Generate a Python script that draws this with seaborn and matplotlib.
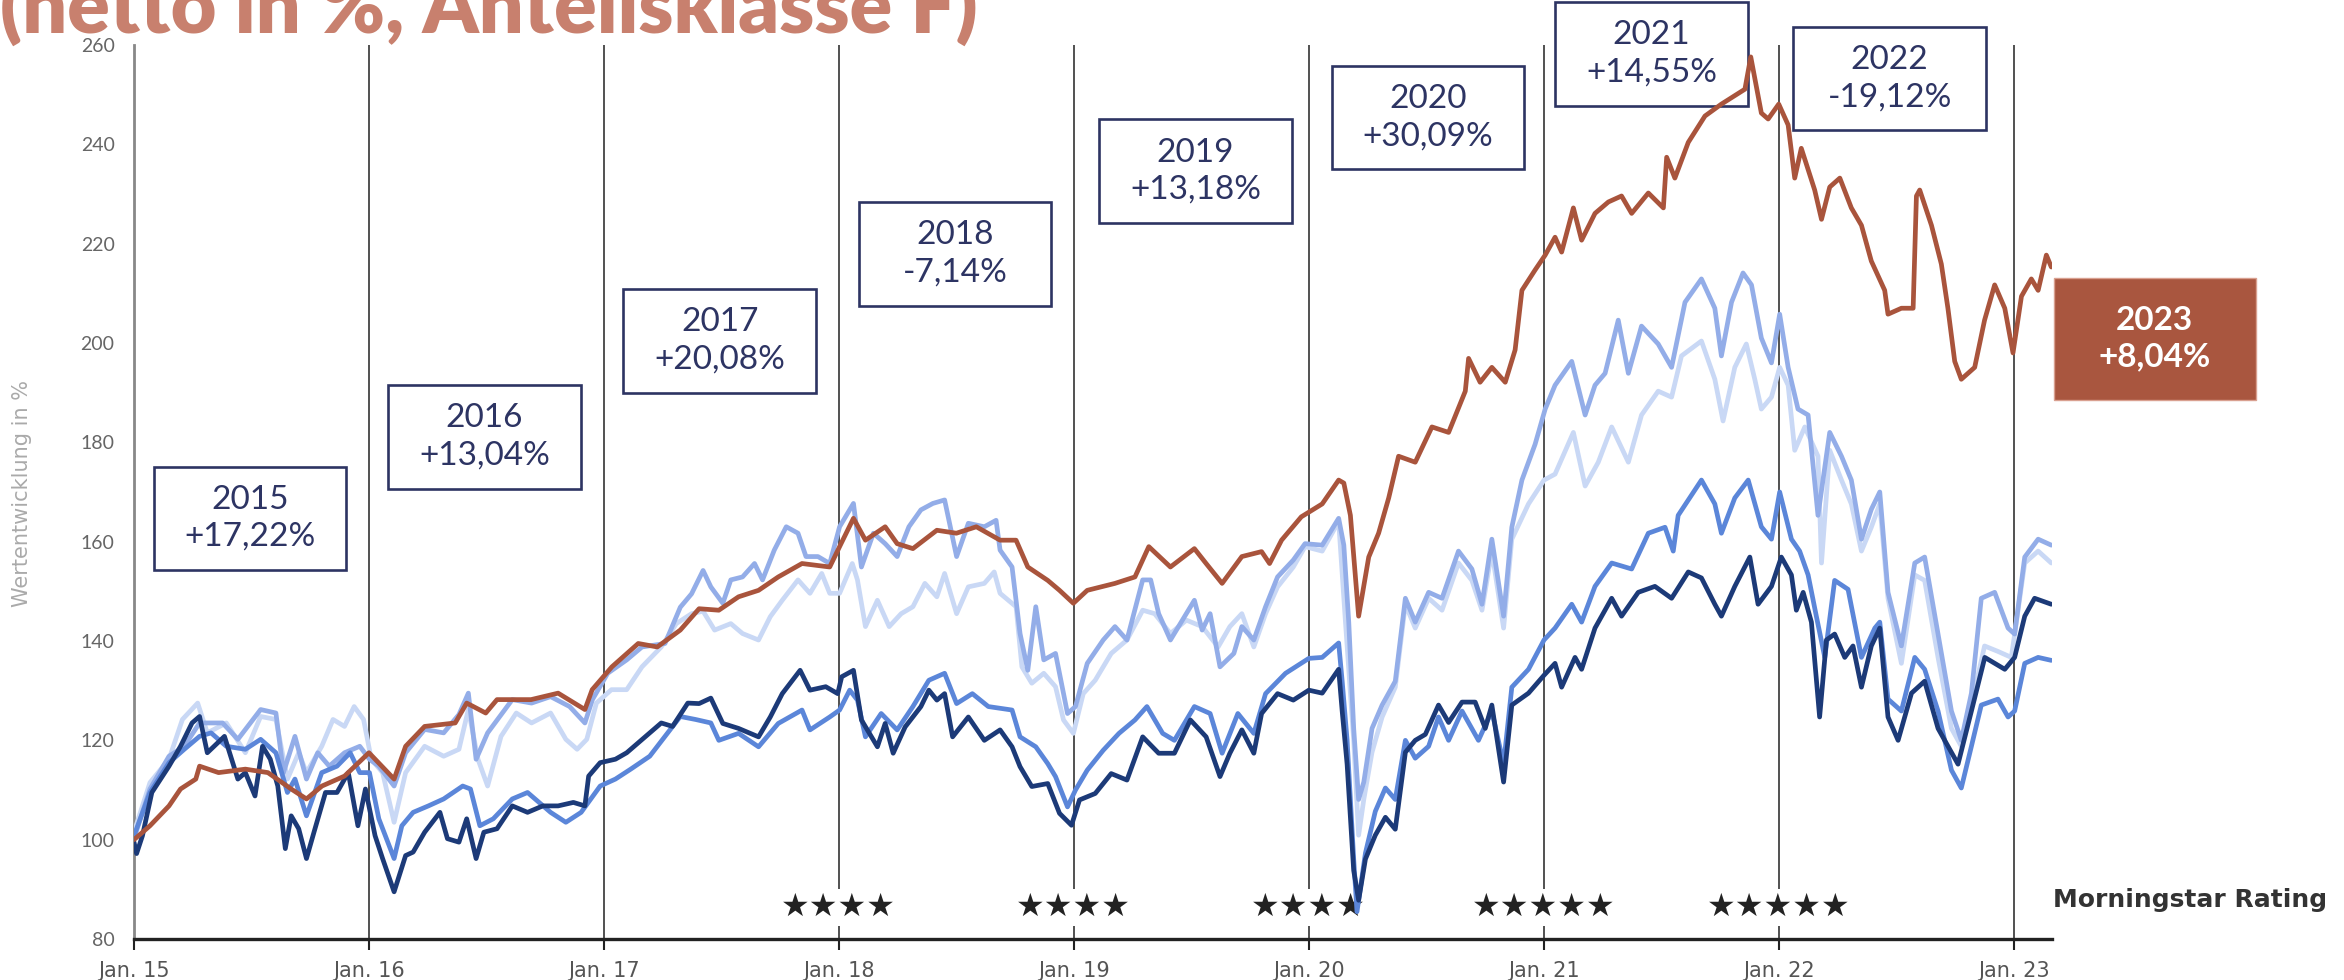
import numpy as np
import pandas as pd
import matplotlib
matplotlib.use('Agg')
import matplotlib.pyplot as plt
from matplotlib.patches import Rectangle
import seaborn as sns

# years after Jan. 2015 / values in %
fund_t = [0, 0.068, 0.149, 0.198, 0.263, 0.279, 0.36, 0.474, 0.57, 0.669, 0.734, 0.80, 0.896, 1.0, 1.107,
          1.156, 1.237, 1.367, 1.416, 1.497, 1.545, 1.69, 1.805, 1.919, 1.95, 2.034, 2.146, 2.227, 2.325,
          2.405, 2.489, 2.573, 2.658, 2.742, 2.843, 2.961, 3.003, 3.062, 3.113, 3.197, 3.248, 3.315, 3.417,
          3.5, 3.585, 3.686, 3.754, 3.804, 3.889, 3.939, 3.998, 4.057, 4.175, 4.26, 4.319, 4.411, 4.513,
          4.563, 4.631, 4.715, 4.799, 4.833, 4.884, 4.968, 5.057, 5.127, 5.149, 5.177, 5.212, 5.255, 5.297,
          5.34, 5.382, 5.453, 5.524, 5.595, 5.666, 5.68, 5.729, 5.779, 5.836, 5.878, 5.907, 5.963, 6.006,
          6.048, 6.076, 6.126, 6.161, 6.218, 6.275, 6.331, 6.374, 6.445, 6.509, 6.523, 6.558, 6.615, 6.686,
          6.756, 6.856, 6.881, 6.926, 6.955, 7.0, 7.04, 7.068, 7.096, 7.153, 7.182, 7.217, 7.26, 7.309,
          7.352, 7.394, 7.451, 7.465, 7.522, 7.572, 7.586, 7.6, 7.65, 7.692, 7.72, 7.749, 7.777, 7.834,
          7.876, 7.919, 7.962, 7.997, 8.033, 8.075, 8.104, 8.139, 8.16]
fund_v = [100, 102.8, 106.8, 110.2, 112.2, 114.8, 113.5, 114.2, 113.5, 110.2, 108.2, 110.8, 112.8, 117.5, 112.2,
          118.8, 122.8, 123.5, 127.5, 125.5, 128.2, 128.2, 129.5, 126.2, 130.2, 134.8, 139.5, 138.8, 142.2,
          146.5, 146.2, 148.9, 150.2, 152.9, 155.6, 154.9, 159, 164.7, 160.3, 163, 159.6, 158.6, 162.3,
          161.7, 163, 160.3, 160.3, 154.9, 152.2, 150.2, 147.6, 150.2, 151.6, 152.9, 159, 154.9, 158.6,
          155.6, 151.6, 157, 158, 155.6, 160.3, 165, 167.6, 172.4, 171.8, 165.3, 145, 156.9, 161.7,
          168.8, 177.2, 176, 183.1, 182, 190.3, 196.9, 192.1, 195.1, 192.1, 198.6, 210.6, 214.7, 217.7,
          221.3, 218.3, 227.2, 220.7, 226.1, 228.4, 229.6, 226.1, 230.2, 227.2, 237.4, 233.2, 240.4, 245.7,
          248.1, 251.1, 257.6, 246.3, 245.1, 248.1, 243.9, 233.2, 239.2, 230.8, 224.9, 231.4, 233.2, 227.2,
          223.7, 216.5, 210.6, 205.8, 207, 207, 229.6, 230.8, 223.7, 215.9, 207, 196.3, 192.7, 195.1,
          204.6, 211.7, 207, 198, 209.4, 212.9, 210.6, 217.7, 215.3]

navy_t = [0, 0.011, 0.036, 0.076, 0.149, 0.198, 0.247, 0.279, 0.312, 0.385, 0.442, 0.474, 0.515, 0.547, 0.58,
          0.612, 0.644, 0.669, 0.701, 0.734, 0.766, 0.815, 0.864, 0.912, 0.953, 0.985, 1.026, 1.058, 1.107,
          1.156, 1.188, 1.237, 1.302, 1.334, 1.383, 1.416, 1.456, 1.489, 1.545, 1.61, 1.675, 1.74, 1.805,
          1.87, 1.919, 1.935, 1.984, 2.049, 2.097, 2.146, 2.244, 2.292, 2.357, 2.405, 2.455, 2.506, 2.573,
          2.658, 2.708, 2.759, 2.835, 2.877, 2.944, 2.995, 3.012, 3.062, 3.096, 3.164, 3.197, 3.231, 3.282,
          3.349, 3.383, 3.417, 3.45, 3.484, 3.551, 3.619, 3.686, 3.737, 3.771, 3.821, 3.889, 3.939, 3.99,
          4.024, 4.091, 4.159, 4.226, 4.293, 4.361, 4.428, 4.496, 4.563, 4.622, 4.664, 4.715, 4.766, 4.799,
          4.867, 4.934, 5.0, 5.057, 5.127, 5.142, 5.163, 5.191, 5.212, 5.241, 5.283, 5.326, 5.368, 5.411,
          5.453, 5.496, 5.552, 5.595, 5.652, 5.708, 5.751, 5.779, 5.829, 5.864, 5.935, 6.001, 6.048, 6.076,
          6.133, 6.161, 6.218, 6.289, 6.331, 6.402, 6.473, 6.544, 6.615, 6.671, 6.728, 6.756, 6.813, 6.877,
          6.912, 6.969, 7.011, 7.054, 7.075, 7.104, 7.139, 7.174, 7.203, 7.238, 7.281, 7.316, 7.352, 7.394,
          7.43, 7.465, 7.508, 7.565, 7.621, 7.678, 7.735, 7.763, 7.82, 7.877, 7.962, 8.004, 8.047, 8.089, 8.16]
navy_v = [99.5, 97.2, 100.8, 109.5, 114.8, 118.8, 123.5, 124.8, 117.5, 120.8, 112.2, 113.5, 108.8, 118.8, 116.2,
          110.8, 98.2, 104.8, 102.2, 96.2, 101.5, 109.5, 109.5, 113.5, 102.8, 110.2, 100.8, 96.2, 89.5,
          96.8, 97.5, 101.5, 105.5, 100.2, 99.5, 104.2, 96.2, 101.5, 102.2, 106.8, 105.5, 106.8, 106.8,
          107.5, 106.8, 112.8, 115.5, 116.2, 117.5, 119.5, 123.5, 122.8, 127.5, 127.4, 128.5, 123.4, 122.4,
          120.7, 124.7, 129.4, 134.1, 130.1, 130.8, 129.4, 132.8, 134.1, 124.1, 118.7, 123.4, 117.4, 122.7,
          126.8, 130.1, 128.1, 129.4, 120.7, 124.7, 120.0, 122.1, 118.7, 114.7, 110.7, 111.3, 105.3, 102.9,
          108, 109.3, 113.3, 112, 120.7, 117.4, 117.4, 124.1, 120.7, 112.7, 117.4, 122.1, 117.4, 125.4,
          129.4, 128.1, 130.1, 129.5, 134.3, 125.9, 115.2, 93.8, 87.8, 96.1, 100.9, 104.5, 102.1, 117.6,
          120, 121.2, 127.1, 123.6, 127.7, 127.7, 122.4, 127.1, 111.6, 127.1, 129.5, 133.1, 135.5, 130.7,
          136.7, 134.3, 142.6, 148.6, 145, 149.8, 151, 148.6, 153.9, 152.7, 147.4, 145, 151, 156.9,
          147.4, 151, 156.9, 153.3, 146.2, 149.8, 143.8, 124.7, 140.2, 141.4, 136.7, 139, 130.7, 139,
          142.6, 124.7, 120, 129.5, 131.9, 122.4, 117.6, 115.2, 125.9, 136.7, 134.3, 136.7, 145, 148.6, 147.4]

mid_t = [0, 0.068, 0.149, 0.214, 0.279, 0.328, 0.393, 0.474, 0.539, 0.604, 0.653, 0.685, 0.734, 0.799, 0.864,
         0.92, 0.961, 1.002, 1.042, 1.107, 1.14, 1.188, 1.253, 1.318, 1.399, 1.432, 1.472, 1.529, 1.61,
         1.675, 1.773, 1.838, 1.903, 1.984, 2.049, 2.114, 2.195, 2.26, 2.325, 2.39, 2.455, 2.489, 2.573,
         2.658, 2.742, 2.843, 2.877, 2.961, 3.003, 3.046, 3.079, 3.113, 3.18, 3.248, 3.315, 3.383, 3.45,
         3.501, 3.568, 3.636, 3.737, 3.771, 3.838, 3.889, 3.922, 3.973, 4.007, 4.057, 4.125, 4.192, 4.26,
         4.311, 4.378, 4.428, 4.513, 4.58, 4.631, 4.698, 4.766, 4.816, 4.901, 5.0, 5.057, 5.127, 5.142,
         5.163, 5.191, 5.205, 5.241, 5.283, 5.326, 5.368, 5.411, 5.453, 5.51, 5.552, 5.595, 5.652, 5.722,
         5.779, 5.829, 5.864, 5.935, 6.001, 6.048, 6.119, 6.161, 6.218, 6.289, 6.374, 6.445, 6.516, 6.551,
         6.572, 6.671, 6.728, 6.756, 6.813, 6.87, 6.926, 6.969, 7.004, 7.054, 7.089, 7.125, 7.16, 7.196,
         7.238, 7.295, 7.352, 7.409, 7.43, 7.465, 7.522, 7.579, 7.621, 7.678, 7.735, 7.777, 7.82, 7.862,
         7.933, 7.976, 8.004, 8.047, 8.104, 8.16]
mid_v = [100.8, 109.5, 115.5, 118.2, 120.8, 121.5, 118.8, 118.2, 120.2, 117.5, 109.5, 112.2, 104.8, 113.5, 114.8,
         117.5, 113.5, 113.5, 104.2, 96.2, 102.8, 105.5, 106.8, 108.2, 110.8, 110.2, 102.8, 104.2, 108.2,
         109.5, 105.5, 103.5, 105.5, 110.8, 112.2, 114.2, 116.8, 120.8, 124.8, 124.2, 123.5, 120.0, 121.4,
         118.7, 123.4, 126.1, 122.1, 124.7, 126.1, 130.1, 128.1, 120.7, 125.4, 122.1, 126.8, 132.1, 133.5,
         127.4, 129.4, 126.8, 126.1, 120.7, 118.7, 115.3, 112.7, 106.6, 110, 114, 118, 121.4, 124.1,
         126.8, 121.4, 120.0, 126.8, 125.4, 117.4, 125.4, 121.4, 129.4, 133.5, 136.5, 136.7, 139.6, 131.9,
         120, 96.1, 85.5, 97.3, 105.7, 110.4, 108.1, 120, 116.4, 118.8, 124.7, 120, 125.9, 120,
         125.9, 115.2, 130.7, 134.3, 140.2, 142.6, 147.4, 143.8, 151, 155.7, 154.5, 161.7, 162.9, 158.1,
         165.3, 172.4, 167.6, 161.7, 168.8, 172.4, 163, 160.5, 170, 160.5, 158.1, 153.3, 145, 136.7,
         152.2, 150.4, 136.7, 142.6, 143.8, 128.3, 125.9, 136.7, 134.3, 125.9, 114, 110.4, 118.8, 127.1,
         128.3, 124.7, 125.9, 135.5, 136.7, 136.1]

peri_t = [0, 0.068, 0.149, 0.214, 0.279, 0.377, 0.442, 0.539, 0.604, 0.636, 0.685, 0.734, 0.782, 0.831, 0.896,
          0.961, 1.002, 1.042, 1.107, 1.156, 1.237, 1.318, 1.383, 1.423, 1.456, 1.505, 1.61, 1.692, 1.773,
          1.854, 1.919, 1.951, 2.016, 2.097, 2.162, 2.26, 2.325, 2.373, 2.422, 2.455, 2.506, 2.54, 2.59,
          2.641, 2.675, 2.725, 2.776, 2.826, 2.86, 2.911, 2.961, 3.003, 3.062, 3.096, 3.147, 3.197, 3.248,
          3.298, 3.349, 3.4, 3.45, 3.501, 3.551, 3.619, 3.669, 3.686, 3.737, 3.771, 3.804, 3.838, 3.872,
          3.922, 3.973, 4.007, 4.057, 4.125, 4.175, 4.226, 4.293, 4.327, 4.361, 4.411, 4.462, 4.513, 4.546,
          4.58, 4.622, 4.681, 4.715, 4.766, 4.816, 4.867, 4.934, 4.984, 5.057, 5.127, 5.149, 5.17, 5.191,
          5.212, 5.234, 5.269, 5.312, 5.368, 5.411, 5.453, 5.51, 5.567, 5.637, 5.694, 5.737, 5.779, 5.829,
          5.864, 5.907, 5.963, 6.006, 6.048, 6.119, 6.176, 6.218, 6.261, 6.317, 6.36, 6.416, 6.487, 6.544,
          6.601, 6.671, 6.728, 6.756, 6.799, 6.848, 6.884, 6.926, 6.969, 7.004, 7.04, 7.082, 7.125, 7.167,
          7.217, 7.267, 7.309, 7.352, 7.394, 7.43, 7.465, 7.522, 7.579, 7.621, 7.678, 7.735, 7.777, 7.82,
          7.862, 7.919, 7.976, 8.004, 8.047, 8.104, 8.16]
peri_v = [100.2, 110.2, 116.8, 118.8, 123.5, 123.5, 120.2, 126.2, 125.5, 113.5, 120.8, 112.2, 117.5, 114.8, 117.5,
          118.8, 116.2, 114.8, 110.8, 117.5, 122.2, 121.5, 125.2, 129.5, 116.2, 121.5, 128.2, 127.5, 128.8,
          126.8, 123.5, 128.2, 133.5, 136.2, 138.8, 139.5, 146.8, 149.5, 154.2, 150.9, 147.6, 152.3, 152.9,
          155.6, 152.3, 158.3, 163, 161.7, 157, 157, 155.6, 163, 167.7, 154.9, 161.7, 159.6, 157,
          163, 166.4, 167.7, 168.4, 157, 163.7, 163, 164.3, 158.3, 154.9, 141.5, 134.1, 146.9, 136.2,
          137.5, 125.4, 126.8, 135.5, 140.2, 142.9, 140.2, 152.3, 152.3, 145.5, 140.2, 144.2, 148.2, 142.2,
          145.5, 134.8, 137.5, 142.9, 140.2, 146.9, 152.9, 156.3, 159.6, 159.3, 164.7, 159.3, 143.8, 122.4,
          108.1, 111.6, 122.4, 127.1, 131.9, 148.6, 143.8, 149.8, 148.6, 158.1, 154.5, 147.4, 160.5, 145,
          162.9, 172.4, 179.6, 186.7, 191.5, 196.3, 185.5, 191.5, 193.9, 204.6, 193.9, 203.4, 199.8, 195.1,
          208.2, 212.9, 207, 197.4, 208.2, 214.1, 211.7, 201, 196, 205.8, 195.1, 186.7, 185.5, 165.3,
          182, 177.2, 172.4, 160.5, 166.5, 170, 149.8, 139, 155.7, 156.9, 141.4, 125.9, 120, 129.5,
          148.6, 149.8, 142.6, 141.4, 156.9, 160.5, 159.3]

pale_t = [0, 0.068, 0.149, 0.206, 0.271, 0.312, 0.393, 0.474, 0.539, 0.604, 0.653, 0.701, 0.734, 0.799, 0.847,
          0.896, 0.937, 0.977, 1.01, 1.058, 1.107, 1.156, 1.237, 1.318, 1.383, 1.423, 1.464, 1.505, 1.562,
          1.627, 1.692, 1.773, 1.838, 1.886, 1.927, 1.968, 2.032, 2.097, 2.162, 2.244, 2.308, 2.373, 2.422,
          2.471, 2.54, 2.59, 2.658, 2.708, 2.759, 2.826, 2.877, 2.927, 2.961, 3.003, 3.057, 3.079, 3.113,
          3.164, 3.214, 3.265, 3.315, 3.366, 3.417, 3.45, 3.501, 3.551, 3.619, 3.661, 3.686, 3.754, 3.779,
          3.821, 3.872, 3.922, 3.956, 3.998, 4.04, 4.091, 4.159, 4.226, 4.293, 4.344, 4.411, 4.479, 4.546,
          4.614, 4.664, 4.715, 4.766, 4.816, 4.867, 4.934, 4.984, 5.057, 5.127, 5.156, 5.191, 5.212, 5.234,
          5.269, 5.312, 5.368, 5.411, 5.453, 5.51, 5.567, 5.637, 5.694, 5.737, 5.779, 5.829, 5.864, 5.935,
          6.001, 6.048, 6.126, 6.176, 6.232, 6.289, 6.36, 6.416, 6.487, 6.544, 6.586, 6.671, 6.728, 6.763,
          6.813, 6.862, 6.898, 6.926, 6.969, 7.004, 7.04, 7.068, 7.111, 7.167, 7.182, 7.217, 7.267, 7.309,
          7.352, 7.394, 7.43, 7.465, 7.522, 7.579, 7.621, 7.678, 7.735, 7.777, 7.82, 7.876, 7.933, 7.99,
          8.047, 8.104, 8.16]
pale_v = [101.5, 111.5, 116.2, 124.2, 127.5, 121.5, 123.5, 117.5, 124.8, 124.2, 112.2, 117.5, 113.5, 118.8, 124.2,
          122.8, 126.8, 124.2, 116.2, 113.5, 103.5, 113.5, 118.8, 116.8, 118.2, 126.2, 116.2, 110.8, 120.8,
          125.5, 123.5, 125.5, 120.2, 118.2, 120.2, 127.5, 130.2, 130.2, 134.8, 138.8, 143.5, 145.5, 146.0,
          142.2, 143.5, 141.5, 140.2, 144.9, 148.2, 152.3, 149.6, 153.6, 149.6, 149.6, 155.6, 152.3, 142.9,
          148.2, 142.9, 145.5, 146.9, 151.6, 148.9, 153.6, 145.5, 150.9, 151.6, 153.9, 149.6, 146.9, 134.8,
          131.5, 133.5, 130.8, 124.1, 121.4, 129.4, 132.1, 137.5, 140.2, 146.2, 145.5, 141.5, 144.2, 142.9,
          138.8, 142.9, 145.5, 138.8, 145.5, 150.9, 154.9, 159, 158.1, 164.1, 143.8, 120, 100.9, 108.1,
          117.6, 124.7, 130.7, 147.4, 142.6, 148.6, 146.2, 155.7, 152.2, 146.2, 158.1, 142.6, 160.5, 167.6,
          172.4, 173.6, 182, 171.2, 176, 183.1, 176, 185.5, 190.3, 189.1, 197.4, 200.4, 192.7, 184.3,
          195.1, 199.8, 192.7, 186.7, 189.1, 195.1, 191.5, 178.4, 183.1, 177.2, 155.7, 178.4, 172.4, 167.6,
          158.1, 162.9, 167.6, 148.6, 135.5, 153.3, 152.2, 136.7, 122.4, 118.8, 127.1, 139, 137.9, 136.7,
          155.7, 158.1, 155.7]

series_names = ['pale', 'peri', 'mid', 'navy', 'fund']
series_colors = ['#c9d8f5', '#93ade8', '#5b86d9', '#1c3a78', '#a9543c']

tick_years = [2015, 2016, 2017, 2018, 2019, 2020, 2021, 2022, 2023]
tick_labels = ['Jan. 15', 'Jan. 16', 'Jan. 17', 'Jan. 18', 'Jan. 19', 'Jan. 20', 'Jan. 21', 'Jan. 22', 'Jan. 23']
y_ticks = [80, 100, 120, 140, 160, 180, 200, 220, 240, 260]

box_years = ['2015', '2016', '2017', '2018', '2019', '2020', '2021', '2022']
box_returns = ['+17,22%', '+13,04%', '+20,08%', '-7,14%', '+13,18%', '+30,09%', '+14,55%', '-19,12%']
box_x = [2015.493, 2016.491, 2017.493, 2018.494, 2019.518, 2020.507, 2021.458, 2022.472]
box_y = [164.7, 181.1, 200.4, 217.9, 234.6, 245.4, 258.2, 253.2]

star_x = [2018, 2019, 2020, 2021, 2022]
star_count = [4, 4, 4, 5, 5]

sns.set_theme(style='white')
plt.rcParams['font.family'] = ['Lato', 'DejaVu Sans']

frames = []
for name, t, v in [('pale', pale_t, pale_v), ('peri', peri_t, peri_v), ('mid', mid_t, mid_v),
                   ('navy', navy_t, navy_v), ('fund', fund_t, fund_v)]:
    frames.append(pd.DataFrame({'year': 2015 + np.array(t), 'value': v, 'series': name}))
df = pd.concat(frames, ignore_index=True)

fig = plt.figure(figsize=(23.44, 9.8), dpi=100)
ax = fig.add_axes([134 / 2344, 41 / 980, 1918 / 2344, 894 / 980])

sns.lineplot(data=df, x='year', y='value', hue='series', hue_order=series_names,
             palette=dict(zip(series_names, series_colors)), linewidth=3.4,
             estimator=None, legend=False, ax=ax, zorder=4)

ax.set_xlim(2015, 2023.163)
ax.set_ylim(80, 260)
ax.set_xticks(tick_years)
ax.set_xticklabels(tick_labels, family=['Liberation Sans Narrow', 'DejaVu Sans'], fontsize=15, color='#555555')
ax.set_yticks(y_ticks)
ax.set_yticklabels([str(v) for v in y_ticks], fontsize=14, color='#666666')
ax.tick_params(axis='y', length=0, pad=14)
ax.tick_params(axis='x', length=8, width=1.5, color='#222222', direction='out', pad=8, bottom=True)
ax.set_xlabel('')
ax.set_ylabel('')
ax.xaxis.grid(True, color='#222222', linewidth=1.1)
ax.yaxis.grid(False)
for side in ['top', 'right']:
    ax.spines[side].set_visible(False)
ax.spines['left'].set_color('#888888')
ax.spines['left'].set_linewidth(2)
ax.spines['bottom'].set_color('#222222')
ax.spines['bottom'].set_linewidth(2.4)

navy_txt = '#2d3463'
for yr, ret, cx, cy in zip(box_years, box_returns, box_x, box_y):
    ax.add_patch(Rectangle((cx - 0.41, cy - 10.4), 0.82, 20.8, facecolor='white', edgecolor=navy_txt,
                           linewidth=1.9, zorder=3, clip_on=False))
    ax.text(cx, cy, yr + '\n' + ret, ha='center', va='center', fontsize=24, fontweight='normal',
            color=navy_txt, linespacing=1.3, zorder=3.5, clip_on=False)

# current year box
ax.add_patch(Rectangle((2023.60 - 0.43, 200.8 - 12.2), 0.86, 24.4, facecolor='#a9563f', edgecolor='#d9a090',
                       linewidth=1, zorder=3, clip_on=False))
ax.text(2023.60, 200.8, '2023\n+8,04%', ha='center', va='center', fontsize=24, fontweight='bold',
        color='white', linespacing=1.3, zorder=3.5, clip_on=False)

for sx, n in zip(star_x, star_count):
    ax.text(sx, 86.3, '\u2605' * n, ha='center', va='center', fontsize=23, color='#222222',
            family=['DejaVu Sans'], zorder=3,
            bbox=dict(boxstyle='square,pad=0.1', facecolor='white', edgecolor='none'))

fig.text(2053 / 2344, 1 - 900 / 980, 'Morningstar Rating', ha='left', va='center', fontsize=18,
         fontweight='bold', color='#333333', family=['Liberation Sans Narrow', 'DejaVu Sans'])
fig.text(22 / 2344, 1 - 493 / 980, 'Wertentwicklung in %', ha='center', va='center', rotation=90,
         fontsize=15, color='#aaaaaa', family=['Liberation Sans Narrow', 'DejaVu Sans'])
fig.text(0.0, 1 - 33 / 980, '(netto in %, Anteilsklasse F)', ha='left', va='baseline', fontsize=57,
         fontweight='heavy', color='#c8806e')

fig.savefig('out.png', dpi=100)
